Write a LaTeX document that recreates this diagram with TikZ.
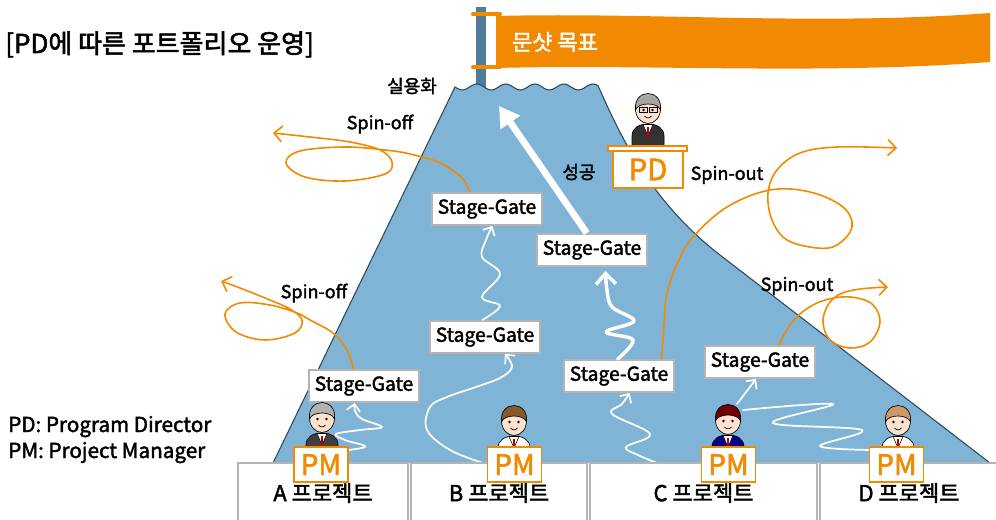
\documentclass[tikz,border=0pt]{standalone}
\usepackage{fontspec}
\setmainfont[FakeBold=2]{Noto Sans CJK KR}
\usetikzlibrary{arrows.meta}

\definecolor{mount}{HTML}{7FB4D6}
\definecolor{ridge}{HTML}{2C4A5C}
\definecolor{flag}{HTML}{F18A00}
\definecolor{pole}{HTML}{4E7C9A}
\definecolor{boxgray}{HTML}{B4B4B4}
\definecolor{skin}{HTML}{FDE3CF}

\tikzset{
  gate/.style={draw=boxgray, line width=1.5pt, fill=white, minimum width=82.5pt, minimum height=24pt, inner sep=0pt, font=\fontsize{14.5}{14.5}\selectfont},
  prj/.style={draw=boxgray, line width=1.5pt, fill=white, minimum height=45pt, inner sep=0pt, font=\fontsize{16.5}{16.5}\selectfont},
  pmbox/.style={draw=flag, line width=1.4pt, fill=white, text=flag, minimum width=40.5pt, minimum height=26pt, inner sep=0pt, font=\fontsize{21}{21}\selectfont},
  lbl/.style={font=\fontsize{13.5}{13.5}\selectfont, inner sep=0pt},
  trail/.style={white, line width=1.3pt, line cap=round, line join=round, -{Straight Barb[length=5pt,width=10pt]}},
  spin/.style={flag, line width=1.2pt, line cap=round, -{Straight Barb[length=6pt,width=12pt]}},
}

% #1 position, #2 hair, #3 jacket, #4 shirt
\newcommand{\drawperson}[4]{%
  \begin{scope}[shift={#1}]
    \filldraw[fill=#3, draw=black, line width=0.5pt] (-16,40) -- (-16,28) .. controls (-16,20) and (-9,16) .. (0,16) .. controls (9,16) and (16,20) .. (16,28) -- (16,40) -- cycle;
    \filldraw[fill=#4, draw=black, line width=0.4pt] (-5,16.5) -- (5,16.5) -- (0,28) -- cycle;
    \fill[red!75!black] (-1.2,19) rectangle (1.2,30);
    \filldraw[fill=skin, draw=black, line width=0.5pt] (0,1) ellipse (12.5 and 14.5);
    \filldraw[fill=#2, draw=black, line width=0.5pt] (-12.5,2) .. controls (-15,-20) and (15,-20) .. (12.5,2) .. controls (10,-6) and (-10,-6) .. cycle;
    \fill (-4.5,2) circle (1.4) (4.5,2) circle (1.4);
    \draw[line width=0.5pt] (-3.5,8) .. controls (-1.5,10.5) and (1.5,10.5) .. (3.5,8);
  \end{scope}}

\begin{document}
\begin{tikzpicture}[x=0.75pt, y=-0.75pt]
\useasboundingbox (0,0) rectangle (996,520);

% title and legend
\node[anchor=base west, inner sep=0pt, font=\fontsize{19.5}{19.5}\selectfont] (title) at (5,53) {[PD에 따른 포트폴리오 운영]};
\node[anchor=base west, inner sep=0pt, font=\fontsize{15.5}{15.5}\selectfont] (legPD) at (8,432) {PD: Program Director};
\node[anchor=base west, inner sep=0pt, font=\fontsize{15.5}{15.5}\selectfont] (legPM) at (8,458) {PM: Project Manager};

% flag
\fill[pole] (476,7) rectangle (486,92);
\fill[flag] (496,16) .. controls (650,12) and (820,26) .. (990,13) -- (990,62) .. controls (820,75) and (650,64) .. (496,68) -- cycle;
\draw[flag, line width=3pt, line cap=round] (473,14.5) -- (500,14.5) (473,67.5) -- (500,67.5);
\node[text=white, font=\fontsize{16.5}{16.5}\selectfont] (goal) at (555,42) {문샷 목표};

% mountain
\fill[mount] (273,463) -- plot[domain=455:598, samples=60] (\x,{87+3*sin((\x-455)*12.4)}) .. controls (620,135) and (650,201) .. (720,255) -- (990,463) -- cycle;
\draw[ridge, line width=0.8pt] (273,463) -- plot[domain=455:598, samples=60] (\x,{87+3*sin((\x-455)*12.4)}) .. controls (620,135) and (650,201) .. (720,255) -- (990,463);

\node[gate] (gateB2) at (487,209) {Stage-Gate};
\node[gate] (gateC2) at (592,250) {Stage-Gate};
\node[gate] (gateB1) at (485,337) {Stage-Gate};
\node[gate] (gateC1) at (619,376) {Stage-Gate};
\node[gate] (gateD) at (760,362) {Stage-Gate};
\node[gate] (gateA) at (364,386) {Stage-Gate};

\coordinate (baseB) at (483,463);
\coordinate (baseC) at (657,463);
\coordinate (headC) at (737,404);
\coordinate (peak) at (499,106);

% white paths up the mountain
\draw[trail] plot[smooth, tension=0.6] coordinates {(330,452) (365,447) (345,440) (336,434) (360,430) (382,427) (362,419) (355,411) ([xshift=-7pt]gateA.south)};
\draw[trail] plot[smooth, tension=0.6] coordinates {(baseB) (450,450) (427,430) (430,407) (447,397) (473,388) (500,378) (512,367) ([xshift=15pt]gateB1.south)};
\draw[trail] plot[smooth, tension=0.6] coordinates {([xshift=-2pt]gateB1.north) (500,306) (482,297) (500,274) (482,257) (486,240) ([xshift=4pt]gateB2.south)};
\draw[trail] plot[smooth, tension=0.6] coordinates {(baseC) (638,455) (626,447) (650,434) (612,414) (622,404) ([xshift=8pt]gateC1.south)};
\draw[trail, line width=2.6pt, -{Straight Barb[length=8pt,width=15pt]}] plot[smooth, tension=0.6] coordinates {([xshift=-1pt]gateC1.north) (633,340) (606,332) (634,321) (612,307) (607,290) ([shift={(10pt,-3pt)}]gateC2.south)};
\draw[trail] (headC) -- ([xshift=-3pt]gateD.south);
\draw[trail, -] plot[smooth, tension=0.6] coordinates {(743,410) (833,404) (773,423) (862,430) (820,446) (870,450)};
\draw[white, line width=5pt, -{Triangle[length=15pt,width=17pt]}] ([xshift=-4pt]gateC2.north) -- (peak);

% spin-off / spin-out
\draw[spin] plot[smooth, tension=0.6] coordinates {([xshift=-13pt]gateB2.north) (462,178) (440,163) (410,154) (385,150) (345,147) (300,151) (286,163) (305,177) (345,181) (385,174) (392,162) (380,150) (350,142) (310,137) (273,133)};
\draw[spin] plot[smooth, tension=0.6] coordinates {([xshift=-8pt]gateA.north) (347,350) (333,333) (310,320) (297,313) (270,305) (240,303) (225,314) (236,332) (265,340) (295,333) (302,320) (290,309) (265,298) (240,288) (221,281)};
\draw[spin] plot[smooth, tension=0.6] coordinates {([xshift=32pt]gateC1.north) (664,325) (667,293) (678,262) (693,237) (727,207) (770,190) (810,192) (843,207) (852,227) (837,245) (817,248) (787,240) (772,220) (768,193) (777,170) (800,153) (837,147) (897,148)};
\draw[spin] plot[smooth, tension=0.6] coordinates {([xshift=14pt]gateD.north) (790,325) (805,310) (825,300) (850,297) (872,304) (880,322) (870,342) (850,348) (830,340) (823,322) (828,305) (840,294) (860,289) (888,287)};

\node[lbl] (real) at (412,86) {실용화};
\node[lbl] (win) at (579,172) {성공};
\node[lbl] (offA) at (380,124) {Spin-off};
\node[lbl] (offB) at (314,293) {Spin-off};
\node[lbl] (outA) at (727,175) {Spin-out};
\node[lbl] (outB) at (797,286) {Spin-out};

% people
\drawperson{(648,108)}{gray!70}{black!80}{white}
\draw[line width=0.6pt] (639,107) rectangle (647,112) (649,107) rectangle (657,112);
\drawperson{(322,417)}{gray!60}{black!75}{white}
\drawperson{(514,420)}{brown!70!black}{white}{white}
\drawperson{(728,419)}{red!45!black}{blue!55!black}{white}
\drawperson{(898,420)}{brown!80}{white}{white}

% projects
\node[prj, minimum width=127.5pt] (prjA) at (323,493) {A 프로젝트};
\node[prj, minimum width=132pt] (prjB) at (499,493) {B 프로젝트};
\node[prj, minimum width=170pt] (prjC) at (703.5,493) {C 프로젝트};
\node[prj, minimum width=133.5pt] (prjD) at (909,493) {D 프로젝트};

\node[pmbox] (pmA) at (321,464.5) {PM};
\node[pmbox] (pmB) at (514.5,464.5) {PM};
\node[pmbox] (pmC) at (728.5,464.5) {PM};
\node[pmbox] (pmD) at (896.5,464.5) {PM};

% director's desk
\draw[flag, fill=white, line width=1pt] (608,146) rectangle (687,151);
\node[pmbox, minimum width=52.5pt, minimum height=27.75pt, font=\fontsize{22}{22}\selectfont] (pd) at (648,169.5) {PD};
\end{tikzpicture}
\end{document}
